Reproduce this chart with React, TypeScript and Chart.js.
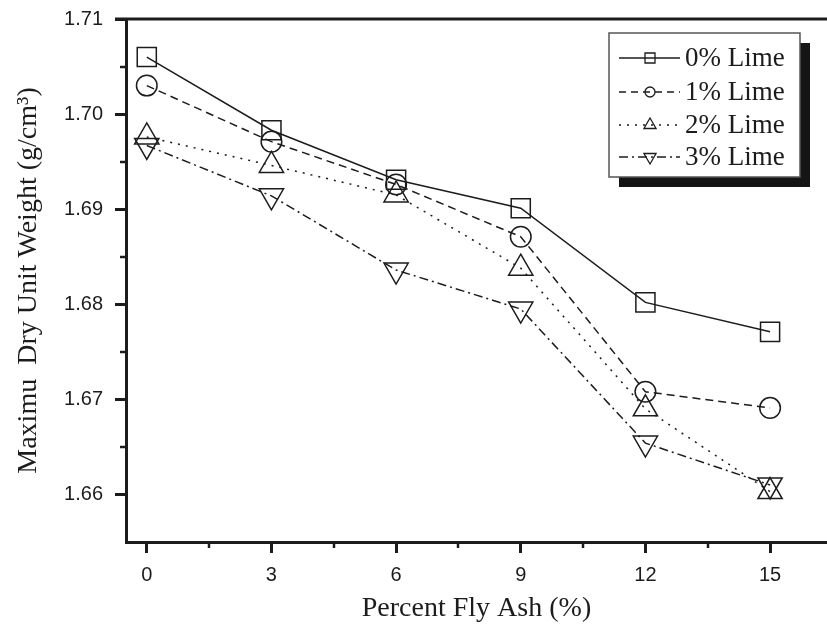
import React, { useEffect, useRef } from 'react';
import { Chart, registerables } from 'chart.js';

Chart.register(...registerables);

// Fly ash content (%) on the horizontal axis
const flyAsh = [0, 3, 6, 9, 12, 15];

// Maximum dry unit weight (g/cm³) for each lime content
const lime0 = [1.706, 1.6983, 1.6931, 1.6901, 1.6802, 1.6771];
const lime1 = [1.703, 1.6971, 1.6926, 1.6871, 1.6708, 1.6691];
const lime2 = [1.6976, 1.6946, 1.6915, 1.6838, 1.669, 1.6603];
const lime3 = [1.6967, 1.6914, 1.6836, 1.6795, 1.6654, 1.661];

const seriesLabels = ['0% Lime', '1% Lime', '2% Lime', '3% Lime'];

const xTicks = [0, 3, 6, 9, 12, 15];
const xMinorTicks = [1.5, 4.5, 7.5, 10.5, 13.5];
const yTicks = [1.66, 1.67, 1.68, 1.69, 1.7, 1.71];
const yMinorTicks = [1.665, 1.675, 1.685, 1.695, 1.705];

const INK = '#1c1c1c';
const SERIF = "'Liberation Serif', 'Times New Roman', Times, serif";
const SANS = "'Liberation Sans', Arial, Helvetica, sans-serif";

type Marker = 'square' | 'circle' | 'up' | 'down';

const seriesStyles: { marker: Marker; dash: number[]; legendDash: number[] }[] = [
  { marker: 'square', dash: [], legendDash: [] },
  { marker: 'circle', dash: [8, 5], legendDash: [7, 5] },
  { marker: 'up', dash: [2, 6], legendDash: [2, 6] },
  { marker: 'down', dash: [9, 4, 2, 4], legendDash: [9, 4, 2, 4] },
];

const seriesValues = [lime0, lime1, lime2, lime3];

function pointStyleFor(m: Marker) {
  if (m === 'square') return { pointStyle: 'rect', pointRadius: 13.5, pointRotation: 0 };
  if (m === 'circle') return { pointStyle: 'circle', pointRadius: 10.3, pointRotation: 0 };
  if (m === 'up') return { pointStyle: 'triangle', pointRadius: 14, pointRotation: 0 };
  return { pointStyle: 'triangle', pointRadius: 14, pointRotation: 180 };
}

function drawMarker(ctx: CanvasRenderingContext2D, m: Marker, cx: number, cy: number, r: number) {
  ctx.beginPath();
  if (m === 'square') {
    ctx.rect(cx - r, cy - r, 2 * r, 2 * r);
  } else if (m === 'circle') {
    ctx.arc(cx, cy, r, 0, Math.PI * 2);
  } else {
    const s = m === 'up' ? 1 : -1;
    const h = r * 1.5;
    const w = r * Math.sqrt(3);
    ctx.moveTo(cx, cy - s * r);
    ctx.lineTo(cx + w / 2, cy - s * r + s * h);
    ctx.lineTo(cx - w / 2, cy - s * r + s * h);
    ctx.closePath();
  }
  ctx.stroke();
}

const framePlugin = {
  id: 'frameAndLegend',
  afterDraw(chart: any) {
    const { ctx, chartArea: ca, scales } = chart;
    const xs = scales.x;
    const ys = scales.y;
    ctx.save();

    // top frame line
    ctx.strokeStyle = INK;
    ctx.lineWidth = 3;
    ctx.setLineDash([]);
    ctx.beginPath();
    ctx.moveTo(ca.left - 11, ca.top);
    ctx.lineTo(chart.width, ca.top);
    ctx.stroke();

    // minor ticks
    ctx.lineWidth = 2.5;
    xMinorTicks.forEach((v) => {
      const px = Math.round(xs.getPixelForValue(v));
      ctx.beginPath();
      ctx.moveTo(px, ca.bottom);
      ctx.lineTo(px, ca.bottom + 6);
      ctx.stroke();
    });
    yMinorTicks.forEach((v) => {
      const py = Math.round(ys.getPixelForValue(v));
      ctx.beginPath();
      ctx.moveTo(ca.left, py);
      ctx.lineTo(ca.left - 6, py);
      ctx.stroke();
    });

    // legend box with drop shadow
    const bx = 609, by = 33, bw = 191, bh = 144;
    ctx.fillStyle = '#151515';
    ctx.fillRect(bx + 10, by + 10, bw, bh);
    ctx.fillStyle = '#ffffff';
    ctx.fillRect(bx, by, bw, bh);
    ctx.strokeStyle = '#555555';
    ctx.lineWidth = 1.5;
    ctx.strokeRect(bx, by, bw, bh);

    const rows = [58, 92, 125, 157];
    ctx.font = `27px ${SERIF}`;
    ctx.textBaseline = 'middle';
    ctx.textAlign = 'left';
    seriesLabels.forEach((label, i) => {
      const st = seriesStyles[i];
      const y = rows[i];
      ctx.strokeStyle = INK;
      ctx.lineWidth = 1.5;
      ctx.setLineDash(st.legendDash);
      ctx.beginPath();
      ctx.moveTo(619, y);
      ctx.lineTo(680, y);
      ctx.stroke();
      ctx.setLineDash([]);
      ctx.lineWidth = 1.3;
      const r = st.marker === 'square' ? 5 : st.marker === 'circle' ? 5 : 7;
      drawMarker(ctx, st.marker, 650, y, r);
      ctx.fillStyle = INK;
      ctx.fillText(label, 685, y + 1);
    });

    ctx.restore();
  },
};

export default function App() {
  const canvasRef = useRef<HTMLCanvasElement | null>(null);

  useEffect(() => {
    const canvas = canvasRef.current;
    if (!canvas) return;

    const datasets = seriesValues.map((vals, i) => {
      const st = seriesStyles[i];
      return {
        label: seriesLabels[i],
        data: flyAsh.map((x, j) => ({ x, y: vals[j] })),
        borderColor: INK,
        borderWidth: 1.5,
        borderDash: st.dash,
        backgroundColor: 'transparent',
        pointBackgroundColor: 'transparent',
        pointBorderColor: INK,
        pointBorderWidth: 1.5,
        pointHoverRadius: 0,
        fill: false,
        tension: 0,
        clip: false as any,
        ...pointStyleFor(st.marker),
      };
    });

    const chart = new Chart(canvas, {
      type: 'line',
      data: { datasets } as any,
      options: {
        responsive: false,
        animation: false,
        events: [],
        layout: { autoPadding: false, padding: { left: 0, top: 19, right: 0, bottom: 0 } },
        plugins: {
          legend: { display: false },
          tooltip: { enabled: false },
        },
        scales: {
          x: {
            type: 'linear',
            min: -0.5,
            max: 16.37,
            afterFit: (s: any) => {
              s.height = 91;
              s.paddingLeft = 0;
              s.paddingRight = 0;
              s.paddingTop = 0;
              s.paddingBottom = 0;
            },
            afterBuildTicks: (s: any) => {
              s.ticks = xTicks.map((v) => ({ value: v }));
            },
            border: { display: true, color: INK, width: 3 },
            grid: {
              display: true,
              drawOnChartArea: false,
              drawTicks: true,
              tickLength: 11,
              tickWidth: 3,
              tickColor: INK,
            },
            ticks: {
              color: INK,
              font: { family: SANS, size: 20 },
              padding: 10,
              maxRotation: 0,
              callback: (v: any) => String(v),
            },
            title: {
              display: true,
              text: 'Percent Fly Ash (%)',
              color: INK,
              font: { family: SERIF, size: 28 },
              padding: { top: 0, bottom: 8 },
            },
          },
          y: {
            type: 'linear',
            min: 1.655,
            max: 1.71,
            afterFit: (s: any) => {
              s.width = 126;
              s.paddingLeft = 0;
              s.paddingRight = 0;
              s.paddingTop = 0;
              s.paddingBottom = 0;
            },
            afterBuildTicks: (s: any) => {
              s.ticks = yTicks.map((v) => ({ value: v }));
            },
            border: { display: true, color: INK, width: 3 },
            grid: {
              display: true,
              drawOnChartArea: false,
              drawTicks: true,
              tickLength: 11,
              tickWidth: 3,
              tickColor: INK,
            },
            ticks: {
              color: INK,
              font: { family: SANS, size: 20 },
              padding: 12,
              callback: (v: any) => Number(v).toFixed(2),
            },
            title: {
              display: true,
              text: 'Maximu  Dry Unit Weight (g/cm³)',
              color: INK,
              font: { family: SERIF, size: 28 },
              padding: { top: 12, bottom: 0 },
            },
          },
        },
      } as any,
      plugins: [framePlugin],
    });

    return () => {
      chart.destroy();
    };
  }, []);

  return (
    <div style={{ position: 'absolute', left: 0, top: 0, width: 827, height: 633, background: '#ffffff' }}>
      <canvas ref={canvasRef} width={827} height={633} style={{ display: 'block' }} />
    </div>
  );
}
